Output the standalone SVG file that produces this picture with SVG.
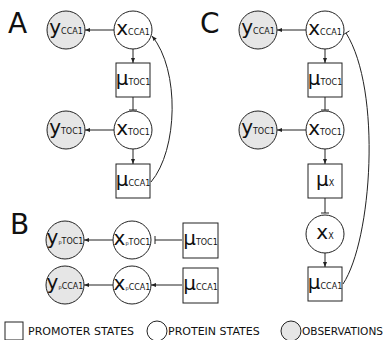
<svg xmlns="http://www.w3.org/2000/svg" width="385" height="340" viewBox="0 0 385 340">
<style>
text{font-family:"DejaVu Sans",Verdana,sans-serif;fill:#111}
.panel{font-size:28px}
.m{font-size:20px}
.s{font-size:8px}
.p{font-size:5px}
.lg{font-size:11px}
.prot{fill:#fff;stroke:#222;stroke-width:1}
.obs{fill:#e6e6e6;stroke:#222;stroke-width:1}
.prom{fill:#fff;stroke:#222;stroke-width:1}
.c{fill:none;stroke:#222;stroke-width:1}
.arr{marker-end:url(#ah)}
</style>
<defs>
<marker id="ah" viewBox="0 0 6 6" refX="6" refY="3" markerWidth="5" markerHeight="5" markerUnits="userSpaceOnUse" orient="auto">
<path d="M0,0.6 L6,3 L0,5.4 Z" fill="#222"/>
</marker>
</defs>

<text class="panel" x="8" y="33">A</text>
<text class="panel" x="10" y="234">B</text>
<text class="panel" x="200" y="33">C</text>

<g id="connectors">
<!-- A -->
<line class="c arr" x1="114" y1="30" x2="85" y2="30"/>
<line class="c arr" x1="133" y1="49" x2="133" y2="63"/>
<line class="c" x1="133" y1="97" x2="133" y2="110"/>
<line class="c" x1="129" y1="110" x2="137" y2="110"/>
<line class="c arr" x1="114" y1="130" x2="85" y2="130"/>
<line class="c arr" x1="133" y1="149" x2="133" y2="164"/>
<path class="c arr" d="M151,182 C178,150 180,70 152,36"/>
<!-- B -->
<line class="c arr" x1="113" y1="240" x2="84" y2="240"/>
<line class="c" x1="182" y1="240" x2="155" y2="240"/>
<line class="c" x1="155" y1="236" x2="155" y2="244"/>
<line class="c arr" x1="113" y1="285" x2="84" y2="285"/>
<line class="c arr" x1="182" y1="285" x2="151" y2="285"/>
<!-- C -->
<line class="c arr" x1="306" y1="30" x2="277" y2="30"/>
<line class="c arr" x1="325" y1="49" x2="325" y2="63"/>
<line class="c" x1="325" y1="97" x2="325" y2="110"/>
<line class="c" x1="321" y1="110" x2="329" y2="110"/>
<line class="c arr" x1="306" y1="130" x2="277" y2="130"/>
<line class="c arr" x1="325" y1="149" x2="325" y2="164"/>
<line class="c" x1="325" y1="198" x2="325" y2="213"/>
<line class="c" x1="321" y1="213" x2="329" y2="213"/>
<line class="c arr" x1="325" y1="253" x2="325" y2="267"/>
<path class="c" d="M343,284 C372,240 382,90 346,33"/>
<line class="c" x1="342.6" y1="35.1" x2="349.4" y2="30.9"/>
</g>

<!-- Panel A nodes -->
<g id="A_yCCA1"><circle class="obs" cx="66" cy="30" r="19"/><text x="66" y="34" text-anchor="middle"><tspan class="m">y</tspan><tspan class="s">CCA1</tspan></text></g>
<g id="A_xCCA1"><circle class="prot" cx="133" cy="30" r="19"/><text x="133" y="35" text-anchor="middle"><tspan class="m">x</tspan><tspan class="s">CCA1</tspan></text></g>
<g id="A_muTOC1"><rect class="prom" x="116" y="63" width="34" height="34"/><text x="133" y="85" text-anchor="middle"><tspan class="m">μ</tspan><tspan class="s">TOC1</tspan></text></g>
<g id="A_yTOC1"><circle class="obs" cx="66" cy="130" r="19"/><text x="66" y="134" text-anchor="middle"><tspan class="m">y</tspan><tspan class="s">TOC1</tspan></text></g>
<g id="A_xTOC1"><circle class="prot" cx="133" cy="130" r="19"/><text x="133" y="135" text-anchor="middle"><tspan class="m">x</tspan><tspan class="s">TOC1</tspan></text></g>
<g id="A_muCCA1"><rect class="prom" x="116" y="164" width="34" height="34"/><text x="133" y="186" text-anchor="middle"><tspan class="m">μ</tspan><tspan class="s">CCA1</tspan></text></g>

<!-- Panel B nodes -->
<g id="B_ypTOC1"><circle class="obs" cx="65" cy="240" r="19"/><text x="65" y="244" text-anchor="middle"><tspan class="m">y</tspan><tspan class="p">p</tspan><tspan class="s">TOC1</tspan></text></g>
<g id="B_xpTOC1"><circle class="prot" cx="132" cy="240" r="19"/><text x="132" y="245" text-anchor="middle"><tspan class="m">x</tspan><tspan class="p">p</tspan><tspan class="s">TOC1</tspan></text></g>
<g id="B_muTOC1"><rect class="prom" x="183" y="223" width="35" height="35"/><text x="200.5" y="245" text-anchor="middle"><tspan class="m">μ</tspan><tspan class="s">TOC1</tspan></text></g>
<g id="B_ypCCA1"><circle class="obs" cx="65" cy="285" r="19"/><text x="65" y="289" text-anchor="middle"><tspan class="m">y</tspan><tspan class="p">p</tspan><tspan class="s">CCA1</tspan></text></g>
<g id="B_xpCCA1"><circle class="prot" cx="132" cy="285" r="19"/><text x="132" y="290" text-anchor="middle"><tspan class="m">x</tspan><tspan class="p">p</tspan><tspan class="s">CCA1</tspan></text></g>
<g id="B_muCCA1"><rect class="prom" x="183" y="268" width="35" height="35"/><text x="200.5" y="290" text-anchor="middle"><tspan class="m">μ</tspan><tspan class="s">CCA1</tspan></text></g>

<!-- Panel C nodes -->
<g id="C_yCCA1"><circle class="obs" cx="258" cy="30" r="19"/><text x="258" y="34" text-anchor="middle"><tspan class="m">y</tspan><tspan class="s">CCA1</tspan></text></g>
<g id="C_xCCA1"><circle class="prot" cx="325" cy="30" r="19"/><text x="325" y="35" text-anchor="middle"><tspan class="m">x</tspan><tspan class="s">CCA1</tspan></text></g>
<g id="C_muTOC1"><rect class="prom" x="308" y="63" width="34" height="34"/><text x="325" y="85" text-anchor="middle"><tspan class="m">μ</tspan><tspan class="s">TOC1</tspan></text></g>
<g id="C_yTOC1"><circle class="obs" cx="258" cy="130" r="19"/><text x="258" y="134" text-anchor="middle"><tspan class="m">y</tspan><tspan class="s">TOC1</tspan></text></g>
<g id="C_xTOC1"><circle class="prot" cx="325" cy="130" r="19"/><text x="325" y="135" text-anchor="middle"><tspan class="m">x</tspan><tspan class="s">TOC1</tspan></text></g>
<g id="C_muX"><rect class="prom" x="308" y="164" width="34" height="34"/><text x="325" y="186" text-anchor="middle"><tspan class="m">μ</tspan><tspan class="s">X</tspan></text></g>
<g id="C_xX"><circle class="prot" cx="325" cy="234" r="19"/><text x="325" y="239" text-anchor="middle"><tspan class="m">x</tspan><tspan class="s">X</tspan></text></g>
<g id="C_muCCA1"><rect class="prom" x="308" y="267" width="34" height="34"/><text x="325" y="289" text-anchor="middle"><tspan class="m">μ</tspan><tspan class="s">CCA1</tspan></text></g>

<!-- Legend -->
<g id="legend">
<rect class="prom" x="5" y="322" width="18" height="18"/>
<text class="lg" x="28" y="335">PROMOTER STATES</text>
<circle class="prot" cx="157" cy="331" r="10"/>
<text class="lg" x="168" y="335">PROTEIN STATES</text>
<circle class="obs" cx="291" cy="331" r="10"/>
<text class="lg" x="302" y="335" textLength="81" lengthAdjust="spacingAndGlyphs">OBSERVATIONS</text>
</g>
</svg>
